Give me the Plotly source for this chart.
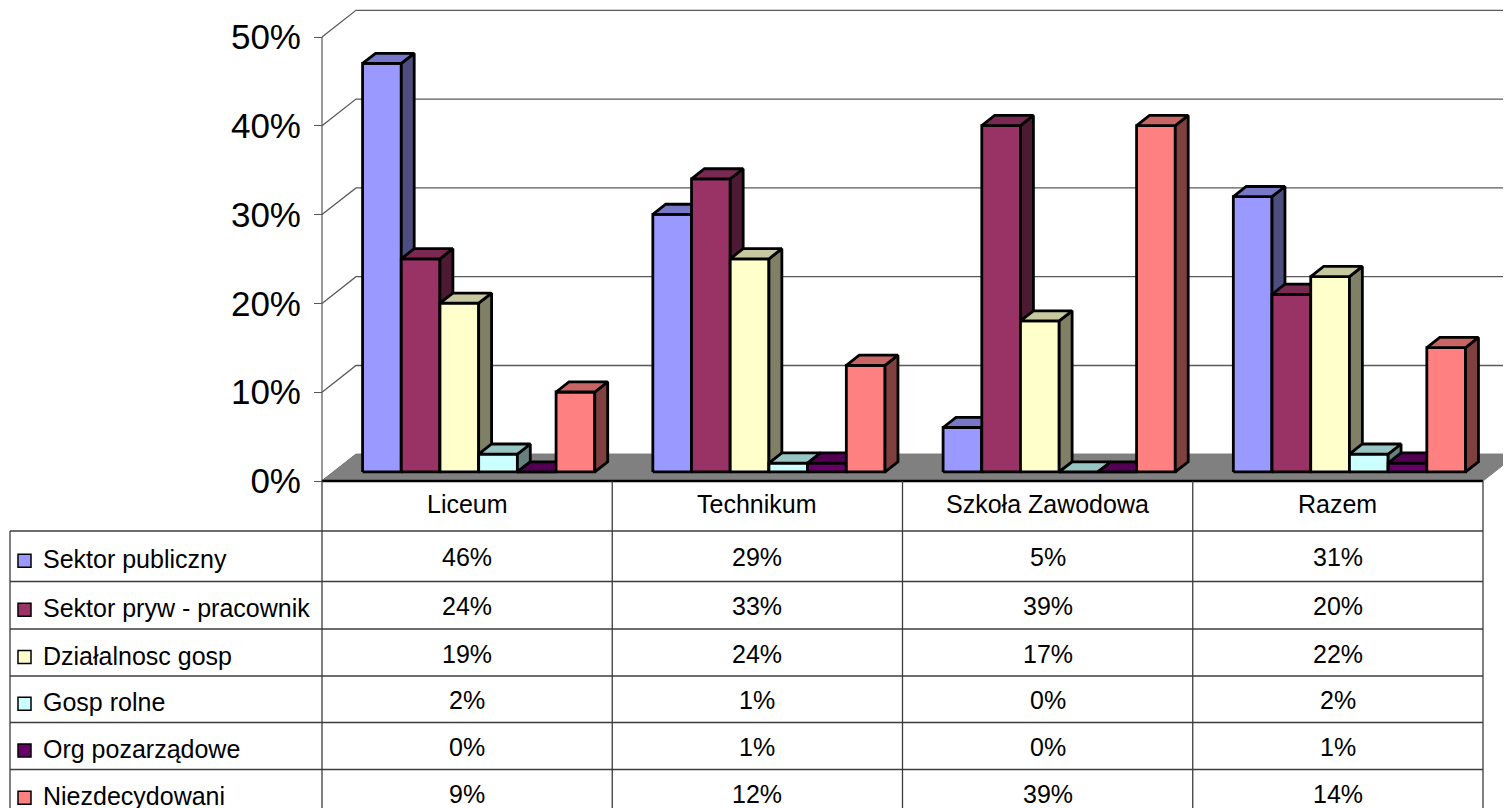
import plotly.graph_objects as go

# ---- data ----
categories = ["Liceum", "Technikum", "Szkoła Zawodowa", "Razem"]
series_names = [
    "Sektor publiczny",
    "Sektor pryw - pracownik",
    "Działalnosc gosp",
    "Gosp rolne",
    "Org pozarządowe",
    "Niezdecydowani",
]
sektor_publiczny = [46, 29, 5, 31]
sektor_prywatny = [24, 33, 39, 20]
dzialalnosc_gosp = [19, 24, 17, 22]
gosp_rolne = [2, 1, 0, 2]
org_pozarzadowe = [0, 1, 0, 1]
niezdecydowani = [9, 12, 39, 14]
series_values = [sektor_publiczny, sektor_prywatny, dzialalnosc_gosp,
                 gosp_rolne, org_pozarzadowe, niezdecydowani]
y_ticks = [0, 10, 20, 30, 40, 50]

# Excel 2003 palette: front, side (shaded), top (lightly shaded)
front_colors = ["#9999FF", "#993366", "#FFFFCC", "#CCFFFF", "#660066", "#FF8080"]
side_colors = ["#4D4D80", "#4D1A33", "#808066", "#668080", "#330033", "#804040"]
top_colors = ["#7878C8", "#7A2952", "#C8C8A0", "#99C4C4", "#520052", "#C86666"]

FONT = "Liberation Sans, Arial, sans-serif"
TABLE_FONT_SIZE = 25

# ---- page geometry (pixels on the page) ----
W, H = 1511, 808
OFF = 8                # default body margin of the html page
AXIS_PX = 322          # front value axis
TABLE_RIGHT_PX = 1483  # right end of the category axis / table
ZERO_PX = 481          # 0% on the front plane
FIFTY_PX = 37          # 50% on the front plane
DEPTH_PX = (34, 26.7)  # shift from front plane to back wall

ux = (TABLE_RIGHT_PX - AXIS_PX) / len(categories)   # px per category
uy = (ZERO_PX - FIFTY_PX) / 50.0                    # px per percent
xmin = -0.5 - (AXIS_PX - OFF) / ux
xmax = xmin + W / ux
ymax = (ZERO_PX - OFF) / uy
ymin = ymax - H / uy
DX = DEPTH_PX[0] / ux
DY = DEPTH_PX[1] / uy

GROUP_W = 0.8
BW = GROUP_W / len(series_names)
BAR_FRONT = 0.34   # depth fraction of the bar front face
BAR_DEPTH = 0.38   # depth fraction taken by a bar


def py(p):
    """page pixel row -> paper y"""
    return 1 - (p - OFF) / H


def px(p):
    """page pixel column -> paper x"""
    return (p - OFF) / W


fig = go.Figure()

# walls: back gridlines + diagonals on the left wall
gx, gy = [], []
for v in y_ticks:
    gx += [-0.5, -0.5 + DX, xmax, None]
    gy += [v, v + DY, v + DY, None]
fig.add_trace(go.Scatter(x=gx, y=gy, mode="lines",
                         line=dict(color="#5a5a5a", width=1.3),
                         hoverinfo="skip", showlegend=False))

# floor
fig.add_trace(go.Scatter(
    x=[-0.5, 3.5, 3.5 + DX, -0.5 + DX, -0.5],
    y=[0, 0, DY, DY, 0],
    mode="lines", fill="toself", fillcolor="#808080",
    line=dict(color="#808080", width=1),
    hoverinfo="skip", showlegend=False))

# front value axis line
fig.add_trace(go.Scatter(x=[-0.5, -0.5], y=[0, 50], mode="lines",
                         line=dict(color="#555555", width=1.2),
                         hoverinfo="skip", showlegend=False))

# 3D columns, series drawn left to right so each one covers its neighbour's side
fdx, fdy = BAR_FRONT * DX, BAR_FRONT * DY
bdx, bdy = BAR_DEPTH * DX, BAR_DEPTH * DY
for s, vals in enumerate(series_values):
    front_x, front_y, side_x, side_y, top_x, top_y = [], [], [], [], [], []
    for c, v in enumerate(vals):
        x0 = c - GROUP_W / 2 + s * BW + fdx
        x1 = x0 + BW
        y0 = fdy
        y1 = y0 + v
        front_x += [x0, x1, x1, x0, x0, None]
        front_y += [y0, y0, y1, y1, y0, None]
        side_x += [x1, x1 + bdx, x1 + bdx, x1, x1, None]
        side_y += [y0, y0 + bdy, y1 + bdy, y1, y0, None]
        top_x += [x0, x1, x1 + bdx, x0 + bdx, x0, None]
        top_y += [y1, y1, y1 + bdy, y1 + bdy, y1, None]
    for fx, fy, col in ((front_x, front_y, front_colors[s]),
                        (side_x, side_y, side_colors[s]),
                        (top_x, top_y, top_colors[s])):
        fig.add_trace(go.Scatter(
            x=fx, y=fy, mode="lines", fill="toself", fillcolor=col,
            line=dict(color="black", width=2.8), name=series_names[s],
            hoverinfo="skip", showlegend=False))

# floor front edge / table top
fig.add_trace(go.Scatter(x=[-0.5, 3.5], y=[0, 0], mode="lines",
                         line=dict(color="black", width=2.5),
                         hoverinfo="skip", showlegend=False))

# ---- data table ----
TABLE_LEFT_PX = 10
HEADER_BOTTOM_PX = 531
ROW_TOPS_PX = [531, 581.5, 629, 676, 722.5, 769.5]
ROW_H_PX = 47.3
line_col = "#3c3c3c"
shapes = []
for k in range(len(categories) + 1):
    shapes.append(dict(type="line", xref="x", yref="paper",
                       x0=k - 0.5, x1=k - 0.5, y0=py(ZERO_PX), y1=py(H + OFF),
                       line=dict(color=line_col, width=1.3)))
shapes.append(dict(type="line", xref="paper", yref="paper",
                   x0=px(TABLE_LEFT_PX), x1=px(TABLE_LEFT_PX),
                   y0=py(HEADER_BOTTOM_PX), y1=py(H + OFF),
                   line=dict(color=line_col, width=1.3)))
for top in ROW_TOPS_PX:
    shapes.append(dict(type="line", xref="paper", yref="paper",
                       x0=px(TABLE_LEFT_PX), x1=px(TABLE_RIGHT_PX),
                       y0=py(top), y1=py(top),
                       line=dict(color=line_col, width=1.3)))

annotations = []
for c, name in enumerate(categories):
    annotations.append(dict(x=c, y=py((ZERO_PX + HEADER_BOTTOM_PX) / 2 - 2),
                            xref="x", yref="paper", yanchor="middle",
                            text=name, showarrow=False,
                            font=dict(family=FONT, size=TABLE_FONT_SIZE, color="black")))
for s, vals in enumerate(series_values):
    top = ROW_TOPS_PX[s]
    nxt = ROW_TOPS_PX[s + 1] if s + 1 < len(ROW_TOPS_PX) else top + ROW_H_PX
    mid = (top + nxt) / 2
    # legend key
    shapes.append(dict(type="rect", xref="paper", yref="paper",
                       x0=px(18), x1=px(31), y0=py(mid + 11), y1=py(mid - 2),
                       fillcolor=front_colors[s], line=dict(color="black", width=1.5)))
    annotations.append(dict(x=px(41), y=py(mid + 3), xref="paper", yref="paper",
                            xanchor="left", yanchor="middle",
                            text=series_names[s], showarrow=False,
                            font=dict(family=FONT, size=TABLE_FONT_SIZE, color="black")))
    for c, v in enumerate(vals):
        annotations.append(dict(x=c, y=py(mid + 1), xref="x", yref="paper",
                                yanchor="middle", text=f"{v}%", showarrow=False,
                                font=dict(family=FONT, size=TABLE_FONT_SIZE, color="black")))

fig.update_layout(
    width=W, height=H, autosize=False,
    margin=dict(l=0, r=0, t=0, b=0),
    paper_bgcolor="white", plot_bgcolor="white",
    showlegend=False,
    xaxis=dict(range=[xmin, xmax], visible=False, fixedrange=True),
    yaxis=dict(range=[ymin, ymax], showgrid=False, zeroline=False,
               showline=False, anchor="free",
               position=(-0.5 - xmin) / (xmax - xmin),
               tickmode="array", tickvals=y_ticks,
               ticktext=[f"{v}%" for v in y_ticks],
               ticks="outside", ticklen=8, tickcolor="#555555", tickwidth=1.2,
               ticklabelstandoff=6,
               tickfont=dict(family=FONT, size=35, color="black"),
               fixedrange=True),
    shapes=shapes,
    annotations=annotations,
)

fig.write_html("out.html")
